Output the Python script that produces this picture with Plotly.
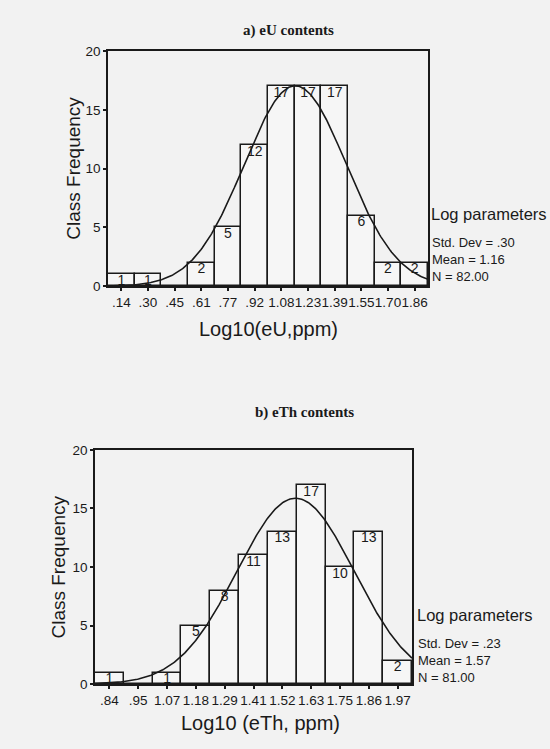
import numpy as np
import plotly.graph_objects as go

# ---- data: a) eU contents ----
eu_labels = [".14", ".30", ".45", ".61", ".77", ".92", "1.08", "1.23", "1.39", "1.55", "1.70", "1.86"]
eu_freq = [1, 1, 0, 2, 5, 12, 17, 17, 17, 6, 2, 2]
eu_mean, eu_sd, eu_n = 1.16, 0.30, 82

# ---- data: b) eTh contents ----
eth_labels = [".84", ".95", "1.07", "1.18", "1.29", "1.41", "1.52", "1.63", "1.75", "1.86", "1.97"]
eth_freq = [1, 0, 1, 5, 8, 11, 13, 17, 10, 13, 2]
eth_mean, eth_sd, eth_n = 1.57, 0.23, 81

y_ticks = [0, 5, 10, 15, 20]

INK = "#1a1a1a"
BG = "#f2f2f2"
FONT = "Liberation Sans, Arial, sans-serif"
SERIF = "Liberation Serif, Times New Roman, serif"

W, H = 550, 749


def px_x(p):
    return p / W


def px_y(p):
    return 1 - p / H


fig = go.Figure()


def add_hist(labels, freq, mean, sd, n, xa, ya):
    c0 = float(labels[0])
    c1 = float(labels[-1])
    w = (c1 - c0) / (len(labels) - 1)
    centers = [c0 + i * w for i in range(len(labels))]
    fig.add_trace(go.Bar(
        x=centers, y=freq, width=w,
        marker=dict(color="rgba(255,255,255,0.35)", line=dict(color=INK, width=1.5)),
        xaxis=xa, yaxis=ya, showlegend=False, hoverinfo="skip",
    ))
    lx = [c for c, f in zip(centers, freq) if f > 0]
    ly = [f for f in freq if f > 0]
    fig.add_trace(go.Scatter(
        x=lx, y=ly, mode="text", text=[str(v) for v in ly],
        textposition="bottom center",
        textfont=dict(family=FONT, size=14, color=INK),
        xaxis=xa, yaxis=ya, showlegend=False, hoverinfo="skip",
    ))
    lo, hi = c0 - w / 2, c1 + w / 2
    xs = np.linspace(lo, hi, 300)
    ys = n * w * np.exp(-0.5 * ((xs - mean) / sd) ** 2) / (sd * np.sqrt(2 * np.pi))
    fig.add_trace(go.Scatter(
        x=xs, y=ys, mode="lines", line=dict(color=INK, width=1.6),
        xaxis=xa, yaxis=ya, showlegend=False, hoverinfo="skip",
    ))
    return centers, lo, hi


ca, lo_a, hi_a = add_hist(eu_labels, eu_freq, eu_mean, eu_sd, eu_n, "x", "y")
cb, lo_b, hi_b = add_hist(eth_labels, eth_freq, eth_mean, eth_sd, eth_n, "x2", "y2")

axis_common = dict(
    showline=True, mirror=True, linecolor=INK, linewidth=1.6,
    showgrid=False, zeroline=False,
    ticks="outside", ticklen=3, tickwidth=2, tickcolor=INK,
    tickfont=dict(family=FONT, size=13.5, color=INK),
    fixedrange=True,
)

fig.update_layout(
    width=W, height=H,
    margin=dict(l=0, r=0, t=0, b=0),
    paper_bgcolor=BG, plot_bgcolor=BG,
    bargap=0,
    xaxis=dict(domain=[px_x(108), px_x(428)], range=[lo_a, hi_a], anchor="y",
               tickmode="array", tickvals=ca, ticktext=eu_labels, tickangle=0, **axis_common),
    yaxis=dict(domain=[px_y(285), px_y(45)], range=[0, 20], anchor="x",
               tickmode="array", tickvals=y_ticks, ticktext=[str(t) for t in y_ticks], **axis_common),
    xaxis2=dict(domain=[px_x(95), px_x(412)], range=[lo_b, hi_b], anchor="y2",
                tickmode="array", tickvals=cb, ticktext=eth_labels, tickangle=0, **axis_common),
    yaxis2=dict(domain=[px_y(691), px_y(452)], range=[0, 20], anchor="x2",
                tickmode="array", tickvals=y_ticks, ticktext=[str(t) for t in y_ticks], **axis_common),
)


def ann(text, x, y, size, bold=False, family=FONT, angle=0, xanchor="center", align="center"):
    fig.add_annotation(
        text=f"<b>{text}</b>" if bold else text,
        x=px_x(x), y=px_y(y), xref="paper", yref="paper",
        xanchor=xanchor, yanchor="middle", showarrow=False, textangle=angle,
        borderpad=0, align=align,
        font=dict(family=family, size=size, color=INK),
    )


ann("a) eU contents", 288, 24, 15, bold=True, family=SERIF)
ann("b) eTh contents", 304, 414, 15, bold=True, family=SERIF)

ann("Class Frequency", 74, 165, 19, angle=-90)
ann("Class Frequency", 59, 572, 19, angle=-90)

ann("Log10(eU,ppm)", 268, 329, 20)
ann("Log10 (eTh, ppm)", 260, 731, 20)

ann("Log parameters", 430, 211, 16.5, xanchor="left")
ann(f"Std. Dev = {eu_sd:.2f}".replace("0.", ".") + f"<br>Mean = {eu_mean:.2f}<br>N = {eu_n:.2f}",
    431, 258, 13, xanchor="left", align="left")

ann("Log parameters", 416, 620, 16.5, xanchor="left")
ann(f"Std. Dev = {eth_sd:.2f}".replace("0.", ".") + f"<br>Mean = {eth_mean:.2f}<br>N = {eth_n:.2f}",
    417, 667, 13, xanchor="left", align="left")

fig.write_html("out.html")
